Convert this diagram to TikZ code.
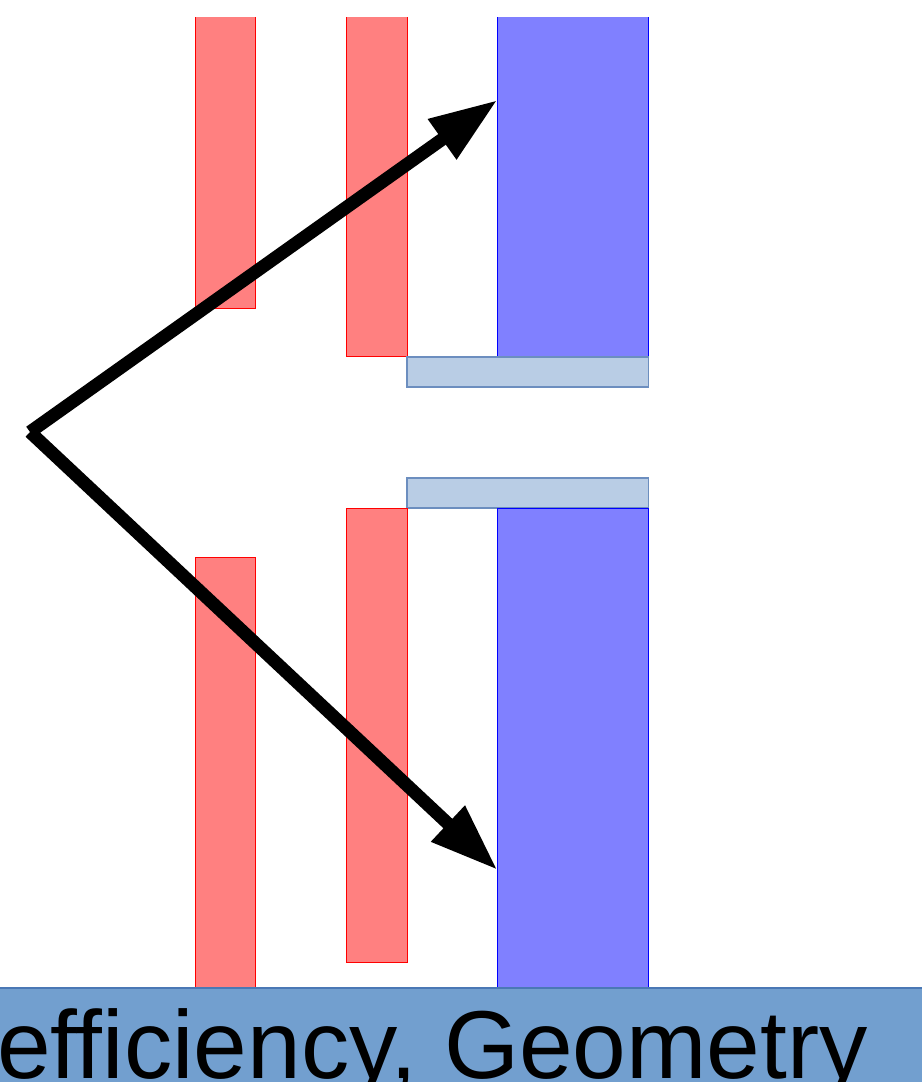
\documentclass[tikz,border=0pt]{standalone}
\usepackage{fontspec}
\setmainfont{Liberation Sans}
\usetikzlibrary{arrows.meta}
\definecolor{redfill}{HTML}{FF8080}
\definecolor{bluefill}{HTML}{8080FF}
\definecolor{lbfill}{HTML}{B9CDE5}
\definecolor{lbline}{HTML}{6C8EBF}
\definecolor{bandfill}{HTML}{729FCF}
\definecolor{bandline}{HTML}{4A78B5}
\tikzset{
  redbar/.style={fill=redfill,draw=red,line width=1pt},
  bluebar/.style={fill=bluefill,draw=blue,line width=1pt},
  lbbar/.style={fill=lbfill,draw=lbline,line width=1.5pt},
  bigarrow/.style={draw=black,line width=13pt,-{Triangle[length=68pt,width=46pt]}}
}
\begin{document}
\begin{tikzpicture}[x=1pt,y=-1pt]
\useasboundingbox (0,0) rectangle (922,1082);
\begin{scope}
\clip (0,17) rectangle (922,988);
\draw[redbar] (195,5) rectangle (255,308);
\draw[redbar] (346,5) rectangle (407,356.5);
\draw[bluebar] (497.5,5) rectangle (648.5,356.5);
\draw[lbbar] (407,357) rectangle (648.5,387);
\draw[lbbar] (407,478) rectangle (648.5,508);
\draw[bluebar] (497.5,508.3) rectangle (648.5,1000);
\draw[redbar] (195,557) rectangle (255,1000);
\draw[redbar] (346,508.3) rectangle (407,962);
\end{scope}
\coordinate (start) at (30,432);
\coordinate (tipA) at (497.5,100);
\coordinate (tipB) at (497.5,870);
\draw[bigarrow] (start) -- (tipA);
\draw[bigarrow] (start) -- (tipB);
\fill[bandfill] (0,988) rectangle (922,1082);
\draw[bandline,line width=1.5pt] (0,988) -- (922,988);
\node[anchor=base west,inner sep=0pt,font=\fontsize{96.5}{100}\selectfont] (label) at (-3,1078) {efficiency, Geometry};
\end{tikzpicture}
\end{document}
